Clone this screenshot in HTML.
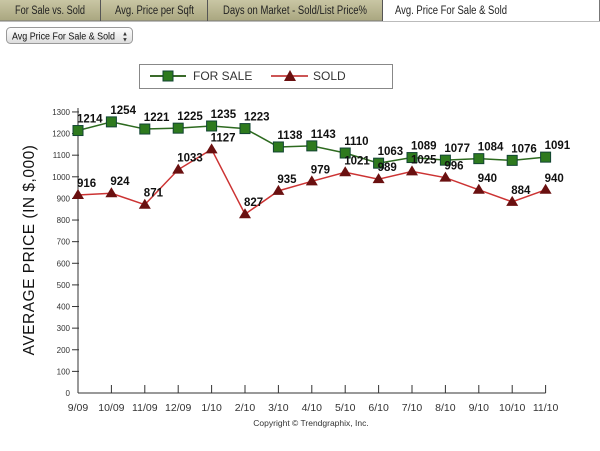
<!DOCTYPE html>
<html><head><style>
body{margin:0;width:600px;height:446px;background:#fff;overflow:hidden;font-family:"Liberation Sans",Arial,sans-serif;}
</style></head><body>
<svg width="600" height="446" xmlns="http://www.w3.org/2000/svg" font-family="Liberation Sans, Arial, sans-serif">
<defs><linearGradient id="tab" x1="0" y1="0" x2="0" y2="1"><stop offset="0" stop-color="#c9c6a4"/><stop offset="1" stop-color="#a9a67f"/></linearGradient>
<linearGradient id="btn" x1="0" y1="0" x2="0" y2="1"><stop offset="0" stop-color="#ffffff"/><stop offset="1" stop-color="#dcdcdc"/></linearGradient></defs>
<rect x="0" y="0" width="383" height="21" fill="url(#tab)"/>
<line x1="0" y1="21" x2="600" y2="21" stroke="#777" stroke-width="1"/>
<line x1="100.5" y1="0" x2="100.5" y2="21" stroke="#555"/>
<line x1="207.5" y1="0" x2="207.5" y2="21" stroke="#555"/>
<line x1="382.5" y1="0" x2="382.5" y2="21" stroke="#555"/>
<rect x="383" y="0" width="216" height="21" fill="#fff"/>
<line x1="599.5" y1="0" x2="599.5" y2="21" stroke="#777"/>
<g font-size="11.5" fill="#222">
<text x="15" y="14" textLength="70" lengthAdjust="spacingAndGlyphs">For Sale vs. Sold</text>
<text x="115" y="14" textLength="79" lengthAdjust="spacingAndGlyphs">Avg. Price per Sqft</text>
<text x="223" y="14" textLength="144" lengthAdjust="spacingAndGlyphs">Days on Market - Sold/List Price%</text>
<text x="395" y="14" textLength="112" lengthAdjust="spacingAndGlyphs">Avg. Price For Sale &amp; Sold</text>
</g>
<rect x="6.5" y="27.5" width="126" height="16" rx="4" fill="url(#btn)" stroke="#999"/>
<text x="12" y="39.5" font-size="10.5" fill="#111" textLength="103" lengthAdjust="spacingAndGlyphs">Avg Price For Sale &amp; Sold</text>
<text x="125" y="35.5" font-size="6" text-anchor="middle" fill="#333">▲</text>
<text x="125" y="41.5" font-size="6" text-anchor="middle" fill="#333">▼</text>
<rect x="139.5" y="64.5" width="253" height="24" fill="#fff" stroke="#888"/>
<line x1="150" y1="76" x2="186" y2="76" stroke="#3a6a2a" stroke-width="2"/>
<rect x="163" y="71" width="10" height="10" fill="#2e7a1e" stroke="#143"/>
<text x="193" y="80" font-size="12" fill="#333">FOR SALE</text>
<line x1="271" y1="76" x2="308" y2="76" stroke="#c55" stroke-width="2"/>
<polygon points="290,70 296,81 284,81" fill="#6a1010"/>
<text x="313" y="80" font-size="12" fill="#333">SOLD</text>
<text transform="translate(34,250) rotate(-90)" font-size="15.5" text-anchor="middle" fill="#111" letter-spacing="0.5">AVERAGE PRICE (IN $,000)</text>
<g id="ax" stroke="#333" stroke-width="1"></g>
<g id="yl" font-size="8" fill="#333" text-anchor="end"></g>
<g id="xl" font-size="10.5" fill="#333" text-anchor="middle"></g>
<polyline id="fs" fill="none" stroke="#2d6a1f" stroke-width="1.5"/>
<polyline id="sd" fill="none" stroke="#cc3333" stroke-width="1.5"/>
<g id="mk"></g>
<g id="lb" font-size="11.5" font-weight="bold" fill="#111"></g>
<text x="311" y="426" font-size="8.5" text-anchor="middle" fill="#333">Copyright © Trendgraphix, Inc.</text>
</svg>
<script>
var NS="http://www.w3.org/2000/svg";
function el(p,t,a,txt){var e=document.createElementNS(NS,t);for(var k in a)e.setAttribute(k,a[k]);if(txt!=null)e.textContent=txt;document.getElementById(p).appendChild(e);return e;}
var X0=78,DX=33.4,Y0=393,K=0.2162;
function Y(v){return Y0-v*K;}
el("ax","line",{x1:X0,y1:108,x2:X0,y2:Y0});
el("ax","line",{x1:X0,y1:Y0,x2:X0+14*DX,y2:Y0});
for(var v=0;v<=1300;v+=100){var y=Y(v);if(v>0)el("ax","line",{x1:X0-6,y1:y,x2:X0+1,y2:y});el("yl","text",{x:X0-8,y:y+3},v);}
var xs=["9/09","10/09","11/09","12/09","1/10","2/10","3/10","4/10","5/10","6/10","7/10","8/10","9/10","10/10","11/10"];
for(var i=0;i<15;i++){var x=X0+i*DX;if(i>0)el("ax","line",{x1:x,y1:Y0-8,x2:x,y2:Y0});el("xl","text",{x:x,y:Y0+18},xs[i]);}
var fs=[1214,1254,1221,1225,1235,1223,1138,1143,1110,1063,1089,1077,1084,1076,1091];
var sd=[916,924,871,1033,1127,827,935,979,1021,989,1025,996,940,884,940];
var p1=[],p2=[];
for(var i=0;i<15;i++){p1.push((X0+i*DX)+","+Y(fs[i]));p2.push((X0+i*DX)+","+Y(sd[i]));}
document.getElementById("fs").setAttribute("points",p1.join(" "));
document.getElementById("sd").setAttribute("points",p2.join(" "));
for(var i=0;i<15;i++){var x=X0+i*DX,y1=Y(fs[i]),y2=Y(sd[i]);
el("mk","polygon",{points:x+","+(y2-6)+" "+(x+6)+","+(y2+4)+" "+(x-6)+","+(y2+4),fill:"#6a1010"});
el("mk","rect",{x:x-5,y:y1-5,width:10,height:10,fill:"#2e7a1e",stroke:"#143"});
el("lb","text",{x:x-1,y:y1-8},fs[i]);el("lb","text",{x:x-1,y:y2-8},sd[i]);}
</script>
</body></html>
